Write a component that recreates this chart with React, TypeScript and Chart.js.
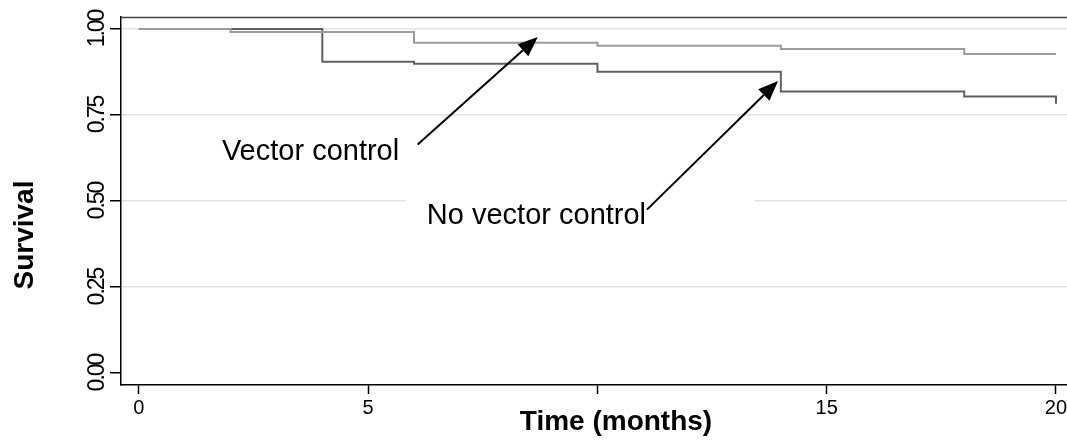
import React, { useEffect, useRef } from "react";
import { Chart, registerables } from "chart.js";

Chart.register(...registerables);

// ---- data ----
const monthsVector = [0, 2, 6, 10, 14, 18, 20];
const survivalVector = [1.0, 0.991, 0.96, 0.951, 0.942, 0.927, 0.927];
const monthsNoVector = [0, 4, 6, 10, 14, 18, 20];
const survivalNoVector = [1.0, 0.905, 0.899, 0.876, 0.818, 0.804, 0.783];

const xTickValues = [0, 5, 10, 15, 20];
const xTickLabels = ["0", "5", "", "15", "20"];
const yTickValues = [0, 0.25, 0.5, 0.75, 1];
const yTickLabels = ["0.00", "0.25", "0.50", "0.75", "1.00"];

const xTitle = "Time (months)";
const yTitle = "Survival";
const labelVector = "Vector control";
const labelNoVector = "No vector control";

const FONT = "'Liberation Sans', Arial, Helvetica, sans-serif";

const overlayPlugin = {
  id: "overlay",
  afterDraw(chart: any) {
    const { ctx, chartArea, scales } = chart;
    const xs = scales.x;
    const ys = scales.y;
    const X = (v: number) => xs.getPixelForValue(v);
    const Y = (v: number) => ys.getPixelForValue(v);
    ctx.save();

    // top border of plot region
    ctx.strokeStyle = "#444";
    ctx.lineWidth = 1.5;
    ctx.beginPath();
    ctx.moveTo(chartArea.left, chartArea.top + 0.5);
    ctx.lineTo(chartArea.right, chartArea.top + 0.5);
    ctx.stroke();

    // rotated y tick labels
    ctx.fillStyle = "#000";
    ctx.font = `23px ${FONT}`;
    (ctx as any).letterSpacing = "-2px";
    yTickValues.forEach((v, i) => {
      ctx.save();
      ctx.translate(chartArea.left - 17, Y(v));
      ctx.rotate(-Math.PI / 2);
      ctx.textAlign = "center";
      ctx.textBaseline = "alphabetic";
      ctx.fillText(yTickLabels[i], 0, 0);
      ctx.restore();
    });
    (ctx as any).letterSpacing = "0px";

    // y axis title
    ctx.save();
    ctx.font = `bold 28px ${FONT}`;
    ctx.translate(33, 235);
    ctx.rotate(-Math.PI / 2);
    ctx.textAlign = "center";
    ctx.textBaseline = "alphabetic";
    ctx.fillText(yTitle, 0, 0);
    ctx.restore();

    // x axis title
    ctx.font = `bold 28px ${FONT}`;
    ctx.textAlign = "center";
    ctx.textBaseline = "alphabetic";
    ctx.fillText(xTitle, (chartArea.left + chartArea.right) / 2, 430);

    // white box behind "No vector control" label
    ctx.fillStyle = "#fff";
    ctx.fillRect(X(5.82), Y(0.535), X(13.43) - X(5.82), Y(0.39) - Y(0.535));

    // labels
    ctx.fillStyle = "#000";
    ctx.font = `29px ${FONT}`;
    ctx.textAlign = "left";
    ctx.fillText(labelVector, X(1.81), Y(0.62));
    ctx.fillText(labelNoVector, X(6.28), Y(0.432));

    // arrows
    const arrow = (x1: number, y1: number, x2: number, y2: number) => {
      const ax = X(x1), ay = Y(y1), bx = X(x2), by = Y(y2);
      const ang = Math.atan2(by - ay, bx - ax);
      const len = 20, half = 8;
      const baseX = bx - len * Math.cos(ang);
      const baseY = by - len * Math.sin(ang);
      ctx.strokeStyle = "#000";
      ctx.lineWidth = 2;
      ctx.beginPath();
      ctx.moveTo(ax, ay);
      ctx.lineTo(baseX, baseY);
      ctx.stroke();
      ctx.fillStyle = "#000";
      ctx.beginPath();
      ctx.moveTo(bx, by);
      ctx.lineTo(baseX + half * Math.sin(ang), baseY - half * Math.cos(ang));
      ctx.lineTo(baseX - half * Math.sin(ang), baseY + half * Math.cos(ang));
      ctx.closePath();
      ctx.fill();
    };
    arrow(6.08, 0.664, 8.7, 0.977);
    arrow(11.08, 0.475, 13.94, 0.849);

    ctx.restore();
  },
};

export default function App() {
  const canvasRef = useRef<HTMLCanvasElement | null>(null);

  useEffect(() => {
    const canvas = canvasRef.current;
    if (!canvas) return;
    const chart = new Chart(canvas, {
      type: "line",
      data: {
        datasets: [
          {
            label: labelVector,
            data: monthsVector.map((m, i) => ({ x: m, y: survivalVector[i] })),
            borderColor: "#9c9c9c",
            borderWidth: 2,
            stepped: true,
            pointRadius: 0,
            fill: false,
          },
          {
            label: labelNoVector,
            data: monthsNoVector.map((m, i) => ({ x: m, y: survivalNoVector[i] })),
            borderColor: "#606060",
            borderWidth: 2,
            stepped: true,
            pointRadius: 0,
            fill: false,
          },
        ],
      },
      options: {
        responsive: false,
        animation: false,
        layout: { padding: { left: 110, top: 17, right: 4, bottom: 21 } },
        plugins: {
          legend: { display: false },
          tooltip: { enabled: false },
        },
        scales: {
          x: {
            type: "linear",
            min: -0.39,
            max: 21.2,
            afterBuildTicks: (scale: any) => {
              scale.ticks = xTickValues.map((v) => ({ value: v }));
            },
            ticks: {
              color: "#000",
              font: { family: FONT, size: 20 },
              padding: 2,
              maxRotation: 0,
              callback: (value: any) => {
                const i = xTickValues.indexOf(Number(value));
                return i >= 0 ? xTickLabels[i] : "";
              },
            },
            grid: {
              drawOnChartArea: false,
              tickLength: 9,
              tickColor: "#000",
              tickWidth: 1.5,
            },
            border: { color: "#000", width: 1.5 },
          },
          y: {
            type: "linear",
            min: -0.0348,
            max: 1.0348,
            afterBuildTicks: (scale: any) => {
              scale.ticks = yTickValues.map((v) => ({ value: v }));
            },
            ticks: { display: false },
            grid: {
              color: (c: any) => (c.tick && c.tick.value === 0 ? "rgba(0,0,0,0)" : "#e2e2e2"),
              lineWidth: 1.5,
              tickLength: 11,
              tickColor: "#000",
              tickWidth: 1.5,
            },
            border: { color: "#000", width: 1.5 },
          },
        },
      },
      plugins: [overlayPlugin],
    });
    return () => chart.destroy();
  }, []);

  return (
    <div
      style={{
        position: "fixed",
        left: 0,
        top: 0,
        width: 1067,
        height: 443,
        overflow: "hidden",
        background: "#fff",
      }}
    >
      <canvas ref={canvasRef} width={1115} height={443} style={{ display: "block" }} />
    </div>
  );
}
